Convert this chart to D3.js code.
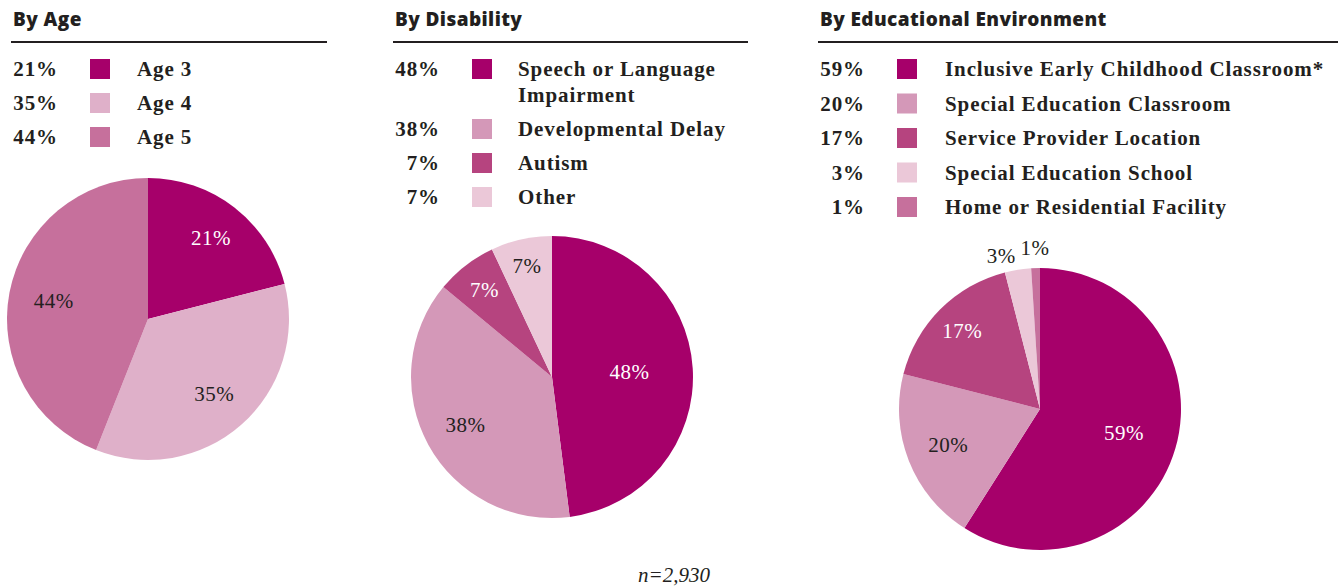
<!DOCTYPE html>
<html>
<head>
<meta charset="utf-8">
<script src="https://cdn.jsdelivr.net/npm/d3@7"></script>
<style>
  body { margin: 0; background: #fff; }
  svg { display: block; }
  .title { font-family: "Open Sans", Lato, sans-serif; font-weight: 800; font-size: 19px; letter-spacing: 0.4px; fill: #231f20; }
  .leg { font-family: "Liberation Serif", "DejaVu Serif", serif; font-weight: 700; font-size: 21px; letter-spacing: 0.9px; fill: #231f20; }
  .lbl { font-family: "Liberation Serif", "DejaVu Serif", serif; font-size: 21px; letter-spacing: 0.5px; }
  .note { font-family: "Liberation Serif", serif; font-style: italic; font-size: 21px; fill: #231f20; }
</style>
</head>
<body>
<div id="chart"></div>
<script>
// data
var ageCats = ["Age 3", "Age 4", "Age 5"];
var ageVals = [21, 35, 44];
var disCats = [["Speech or Language", "Impairment"], ["Developmental Delay"], ["Autism"], ["Other"]];
var disVals = [48, 38, 7, 7];
var envCats = [["Inclusive Early Childhood Classroom*"], ["Special Education Classroom"], ["Service Provider Location"], ["Special Education School"], ["Home or Residential Facility"]];
var envVals = [59, 20, 17, 3, 1];
var nLabel = "n=2,930";

// colours
var magenta = "#a6006a";
var ageColors = [magenta, "#dfb0c9", "#c6709c"];
var disColors = [magenta, "#d498b8", "#b6447f", "#ebc8d8"];
var envColors = [magenta, "#d498b8", "#b6447f", "#ebc8d8", "#c6709c"];

var width = 1341, height = 586;
var svg = d3.select("#chart").append("svg")
  .attr("width", width)
  .attr("height", height);

function panel(opt) {
  var g = svg.append("g");
  g.append("text").attr("class", "title")
    .attr("x", opt.x0 + 2).attr("y", 26)
    .text(opt.title);
  g.append("line")
    .attr("x1", opt.x0).attr("x2", opt.x1)
    .attr("y1", 42).attr("y2", 42)
    .attr("stroke", "#231f20").attr("stroke-width", 2);

  // legend
  var y = 76;
  opt.cats.forEach(function(c, i) {
    var lines = Array.isArray(c) ? c : [c];
    g.append("text").attr("class", "leg")
      .attr("x", opt.pctX).attr("y", y)
      .attr("text-anchor", "end")
      .text(opt.vals[i] + "%");
    g.append("rect")
      .attr("x", opt.swX).attr("y", y - 17)
      .attr("width", 20).attr("height", 20)
      .attr("fill", opt.colors[i]);
    lines.forEach(function(l, j) {
      g.append("text").attr("class", "leg")
        .attr("x", opt.labX).attr("y", y + j * 26)
        .text(l);
    });
    y += (lines.length - 1) * 26 + opt.step;
  });

  // pie
  var pie = d3.pie().sort(null).value(function(d) { return d; });
  var arcs = pie(opt.vals);
  var arc = d3.arc().innerRadius(0).outerRadius(opt.r);
  var pg = g.append("g").attr("transform", "translate(" + opt.cx + "," + opt.cy + ")");
  pg.selectAll("path")
    .data(arcs)
    .enter()
    .append("path")
    .attr("d", arc)
    .attr("fill", function(d, i) { return opt.colors[i]; });

  pg.selectAll("text.lbl")
    .data(arcs)
    .enter()
    .append("text")
    .attr("class", "lbl")
    .attr("transform", function(d, i) {
      var lr = opt.r * opt.labR[i];
      var c = d3.arc().innerRadius(lr).outerRadius(lr).centroid(d);
      return "translate(" + c[0] + "," + (c[1] + 7) + ")";
    })
    .attr("text-anchor", function(d, i) { return opt.anchor ? opt.anchor[i] : "middle"; })
    .attr("fill", function(d, i) { return opt.white[i] ? "#fff" : "#231f20"; })
    .text(function(d) { return d.data + "%"; });
}

panel({
  title: "By Age", x0: 11, x1: 327,
  cats: ageCats, vals: ageVals, colors: ageColors,
  pctX: 58, swX: 90, labX: 137, step: 34,
  cx: 148, cy: 319, r: 141,
  labR: [0.73, 0.71, 0.68], white: [true, false, false]
});

panel({
  title: "By Disability", x0: 393, x1: 748,
  cats: disCats, vals: disVals, colors: disColors,
  pctX: 440, swX: 472, labX: 518, step: 34,
  cx: 552, cy: 377, r: 141,
  labR: [0.55, 0.7, 0.78, 0.81], white: [true, false, true, false]
});

panel({
  title: "By Educational Environment", x0: 818, x1: 1338,
  cats: envCats, vals: envVals, colors: envColors,
  pctX: 865, swX: 897, labX: 945, step: 34.5,
  cx: 1040, cy: 409, r: 141,
  labR: [0.62, 0.7, 0.78, 1.1, 1.14], white: [true, false, true, false, false],
  anchor: ["middle", "middle", "middle", "end", "middle"]
});

svg.append("text").attr("class", "note")
  .attr("x", 674).attr("y", 582)
  .attr("text-anchor", "middle")
  .text(nLabel);
</script>
</body>
</html>
